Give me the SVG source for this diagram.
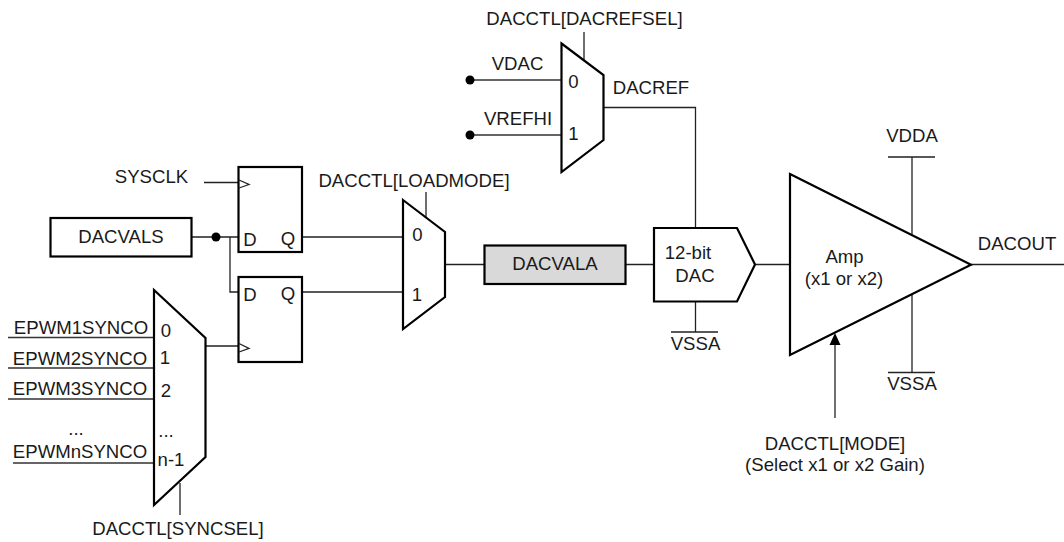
<svg xmlns="http://www.w3.org/2000/svg" width="1064" height="542" viewBox="0 0 1064 542">
<style>
text{font-family:"Liberation Sans",Arial,sans-serif;font-size:18.6px;fill:#1a1a1a;text-anchor:middle}
.b{fill:#fff;stroke:#000;stroke-width:2.2;stroke-linejoin:miter}
.w{stroke:#222;stroke-width:1.3;fill:none}
.k{stroke:#333;stroke-width:1.6;fill:none}
.d{fill:#000}
</style>
<rect width="1064" height="542" fill="#fff"/>
<g id="connectors">
<path class="w" d="M204 182.500H238M191.500 237H238M230 237V292H238M302 237H403M302 292H403M205 346H238M445 264.500H484M625 264.500H654M755 264.500H790M971 264.500H1064"/>
<path class="w" d="M180 483V515M426 192V217M584 32V60M603 107.500H695.500V227.500M695.500 301V332M912 157V234M912 295V372"/>
<path class="k" d="M470 80H561M470 135H561M8 337.500H154M8 368H154M8 399H154M13 463H154"/>
<path class="w" d="M671 332H718M888 157H935M888 372.500H935"/>
<path class="w" d="M835 418V345"/>
<path d="M829.500 345L835 333L840.500 345Z" fill="#000"/>
<circle class="d" cx="216" cy="237" r="4.500"/>
<circle class="d" cx="470" cy="80" r="4.500"/>
<circle class="d" cx="470" cy="135" r="4.500"/>
</g>
<g id="sysclk"><text x="151.500" y="183">SYSCLK</text></g>
<g id="dacvals"><rect class="b" x="50.500" y="218" width="141" height="38.500"/><text x="121" y="243">DACVALS</text></g>
<g id="ff1"><rect class="b" x="238.500" y="167" width="63.500" height="85"/><path class="w" d="M239 180L249 184.500L239 188"/><text x="250" y="245.500">D</text><text x="288" y="244.500">Q</text></g>
<g id="ff2"><rect class="b" x="238.500" y="277" width="63.500" height="85"/><path class="w" d="M239 343.500L249 348.300L239 352"/><text x="250" y="300.500">D</text><text x="288" y="299.500">Q</text></g>
<g id="syncmux"><path class="b" d="M154 290L205.500 338V457L154 505Z"/>
<text x="166" y="337">0</text><text x="165" y="364">1</text><text x="166" y="397">2</text><text x="166" y="437">...</text><text x="171" y="466">n-1</text></g>
<g id="sync-labels"><text x="81" y="334">EPWM1SYNCO</text><text x="80" y="365">EPWM2SYNCO</text><text x="80" y="395">EPWM3SYNCO</text><text x="76" y="435">...</text><text x="80" y="458">EPWMnSYNCO</text><text x="178" y="535">DACCTL[SYNCSEL]</text></g>
<g id="loadmux"><path class="b" d="M403 200L445 232V297L403 329Z"/><text x="417.500" y="241">0</text><text x="417" y="301">1</text><text x="414" y="187">DACCTL[LOADMODE]</text></g>
<g id="dacvala"><rect class="b" x="484.500" y="245.500" width="141" height="38.500" style="fill:#d9d9d9"/><text x="555" y="270">DACVALA</text></g>
<g id="refmux"><path class="b" d="M561.500 43.500L603.500 75V140L561.500 172Z"/><text x="573.500" y="88">0</text><text x="573.500" y="140">1</text><text x="584.500" y="25">DACCTL[DACREFSEL]</text><text x="517.500" y="70">VDAC</text><text x="518" y="125">VREFHI</text><text x="651" y="94">DACREF</text></g>
<g id="dac"><path class="b" d="M654 228H737L755 264.500L737 301.500H654Z"/><text x="688" y="259">12-bit</text><text x="695" y="282">DAC</text><text x="695.500" y="350">VSSA</text></g>
<g id="amp"><path class="b" d="M790 174L971 264.700L790 355Z"/><text x="844.500" y="263">Amp</text><text x="844" y="285">(x1 or x2)</text><text x="912" y="142">VDDA</text><text x="912" y="390">VSSA</text><text x="1017" y="250">DACOUT</text><text x="835" y="450">DACCTL[MODE]</text><text x="835" y="471">(Select x1 or x2 Gain)</text></g>
</svg>
